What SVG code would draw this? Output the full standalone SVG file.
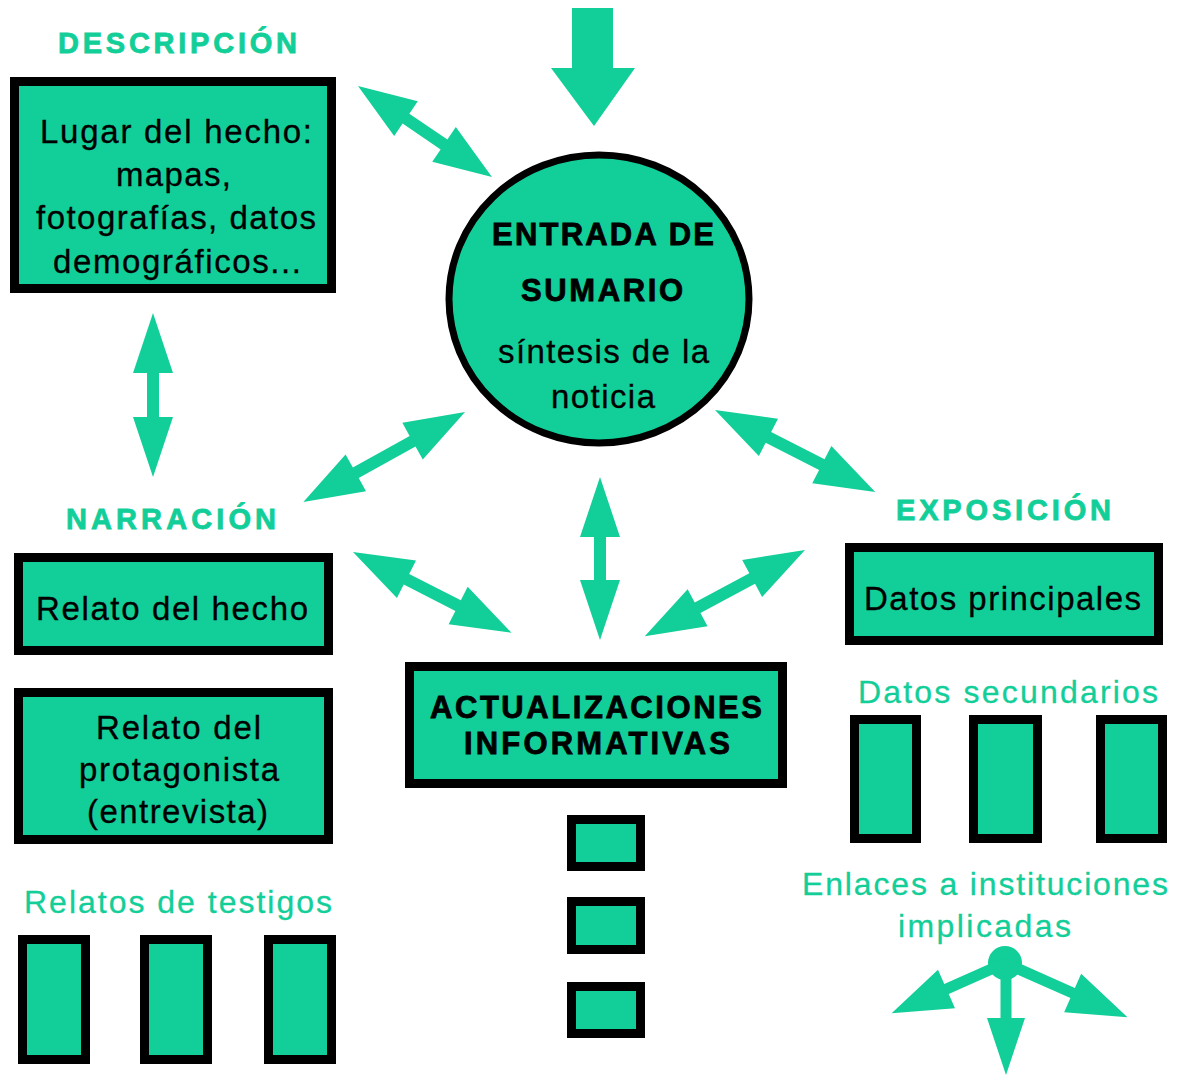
<svg xmlns="http://www.w3.org/2000/svg" width="1180" height="1075" viewBox="0 0 1180 1075">
  <style>
    .box { fill: #12CE98; stroke: #000; stroke-width: 9; }
    .arrow { fill: #12CE98; }
    .body { font-family: "Liberation Sans", Arial, sans-serif; font-size: 33px; fill: #000; stroke: #000; stroke-width: 0.3; }
    .head { font-family: "Liberation Sans", Arial, sans-serif; font-size: 31px; font-weight: bold; fill: #000; stroke: #000; stroke-width: 0.8; }
    .label { font-family: "Liberation Sans", Arial, sans-serif; font-size: 29px; font-weight: bold; fill: #12CE98; stroke: #12CE98; stroke-width: 0.8; }
    .note { font-family: "Liberation Sans", Arial, sans-serif; font-size: 32px; fill: #12CE98; stroke: #12CE98; stroke-width: 0.3; }
  </style>
  <rect width="1180" height="1075" fill="#fff"/>

  <!-- connectors: double arrows drawn along the x axis, then placed -->
  <g id="connectors">
    <polygon class="arrow" points="572,8 613,8 613,68 635,68 594,126 551,68 572,68"/>
    <!-- descripción / sumario -->
    <path class="arrow" transform="translate(358,86) rotate(34.2)" d="M0,0 L58,-21 L58,-6 L104,-6 L104,-21 L162,0 L104,21 L104,6 L58,6 L58,21 Z"/>
    <!-- descripción / narración -->
    <path class="arrow" transform="translate(153,313) rotate(90)" d="M0,0 L60,-20 L60,-6 L104,-6 L104,-20 L164,0 L104,20 L104,6 L60,6 L60,20 Z"/>
    <!-- sumario / narración -->
    <path class="arrow" transform="translate(465,412) rotate(150.9)" d="M0,0 L60,-21 L60,-6 L125,-6 L125,-21 L185,0 L125,21 L125,6 L60,6 L60,21 Z"/>
    <!-- sumario / exposición -->
    <path class="arrow" transform="translate(715,410) rotate(27.1)" d="M0,0 L60,-21 L60,-6 L120,-6 L120,-21 L180,0 L120,21 L120,6 L60,6 L60,21 Z"/>
    <!-- sumario / actualizaciones -->
    <path class="arrow" transform="translate(600,477) rotate(90)" d="M0,0 L60,-20 L60,-6 L103,-6 L103,-20 L163,0 L103,20 L103,6 L60,6 L60,20 Z"/>
    <!-- narración / actualizaciones -->
    <path class="arrow" transform="translate(353,552) rotate(27)" d="M0,0 L60,-21 L60,-6 L118,-6 L118,-21 L178,0 L118,21 L118,6 L60,6 L60,21 Z"/>
    <!-- exposición / actualizaciones -->
    <path class="arrow" transform="translate(805,550) rotate(151.7)" d="M0,0 L60,-21 L60,-6 L122,-6 L122,-21 L182,0 L122,21 L122,6 L60,6 L60,21 Z"/>
    <!-- links fan-out -->
    <circle class="arrow" cx="1005" cy="963" r="17"/>
    <path class="arrow" transform="translate(1005,963) rotate(156.1)" d="M0,-5.5 L64,-5.5 L64,-21 L124,0 L64,21 L64,5.5 L0,5.5 Z"/>
    <path class="arrow" transform="translate(1005,963) rotate(23.9)" d="M0,-5.5 L74,-5.5 L74,-21 L134,0 L74,21 L74,5.5 L0,5.5 Z"/>
    <path class="arrow" transform="translate(1006,963) rotate(90)" d="M0,-5.5 L55,-5.5 L55,-19 L112,0 L55,19 L55,5.5 L0,5.5 Z"/>
  </g>

  <g id="descripcion">
    <text class="label" x="58" y="53" textLength="239" lengthAdjust="spacing">DESCRIPCIÓN</text>
  </g>
  <g id="lugar">
    <rect class="box" x="14.5" y="81.5" width="317" height="207"/>
    <text class="body" x="40" y="143" textLength="272" lengthAdjust="spacing">Lugar del hecho:</text>
    <text class="body" x="116" y="186" textLength="115" lengthAdjust="spacing">mapas,</text>
    <text class="body" x="36" y="229" textLength="280" lengthAdjust="spacing">fotografías, datos</text>
    <text class="body" x="53" y="273" textLength="248" lengthAdjust="spacing">demográficos...</text>
  </g>

  <g id="sumario">
    <ellipse cx="599" cy="299" rx="150" ry="144" fill="#12CE98" stroke="#000" stroke-width="7"/>
    <text class="head" x="492" y="245" textLength="222" lengthAdjust="spacing">ENTRADA DE</text>
    <text class="head" x="521" y="301" textLength="162" lengthAdjust="spacing">SUMARIO</text>
    <text class="body" x="498" y="363" textLength="211" lengthAdjust="spacing">síntesis de la</text>
    <text class="body" x="551" y="408" textLength="104" lengthAdjust="spacing">noticia</text>
  </g>

  <g id="narracion">
    <text class="label" x="66" y="529" textLength="210" lengthAdjust="spacing">NARRACIÓN</text>
  </g>
  <g id="relato-hecho">
    <rect class="box" x="18.5" y="557.5" width="310" height="93"/>
    <text class="body" x="36" y="620" textLength="272" lengthAdjust="spacing">Relato del hecho</text>
  </g>
  <g id="relato-protagonista">
    <rect class="box" x="18.5" y="692.5" width="310" height="147"/>
    <text class="body" x="96" y="739" textLength="165" lengthAdjust="spacing">Relato del</text>
    <text class="body" x="79" y="781" textLength="200" lengthAdjust="spacing">protagonista</text>
    <text class="body" x="87" y="823" textLength="181" lengthAdjust="spacing">(entrevista)</text>
  </g>
  <g id="testigos">
    <text class="note" x="24" y="913" textLength="308" lengthAdjust="spacing">Relatos de testigos</text>
    <rect class="box" x="22.5" y="939.5" width="63" height="120"/>
    <rect class="box" x="144.5" y="939.5" width="63" height="120"/>
    <rect class="box" x="268.5" y="939.5" width="63" height="120"/>
  </g>

  <g id="actualizaciones">
    <rect class="box" x="409.5" y="666.5" width="373" height="117"/>
    <text class="head" x="430" y="718" textLength="332" lengthAdjust="spacing">ACTUALIZACIONES</text>
    <text class="head" x="464" y="754" textLength="266" lengthAdjust="spacing">INFORMATIVAS</text>
  </g>
  <g id="actualizaciones-serie">
    <rect class="box" x="571.5" y="819.5" width="69" height="47"/>
    <rect class="box" x="571.5" y="901.5" width="69" height="48"/>
    <rect class="box" x="571.5" y="986.5" width="69" height="47"/>
  </g>

  <g id="exposicion">
    <text class="label" x="896" y="520" textLength="215" lengthAdjust="spacing">EXPOSICIÓN</text>
  </g>
  <g id="datos-principales">
    <rect class="box" x="849.5" y="547.5" width="309" height="93"/>
    <text class="body" x="864" y="610" textLength="277" lengthAdjust="spacing">Datos principales</text>
  </g>
  <g id="datos-secundarios">
    <text class="note" x="858" y="703" textLength="300" lengthAdjust="spacing">Datos secundarios</text>
    <rect class="box" x="854.5" y="719.5" width="62" height="119"/>
    <rect class="box" x="973.5" y="719.5" width="64" height="119"/>
    <rect class="box" x="1100.5" y="719.5" width="62" height="119"/>
  </g>
  <g id="enlaces">
    <text class="note" x="802" y="895" textLength="366" lengthAdjust="spacing">Enlaces a instituciones</text>
    <text class="note" x="898" y="937" textLength="173" lengthAdjust="spacing">implicadas</text>
  </g>
</svg>
